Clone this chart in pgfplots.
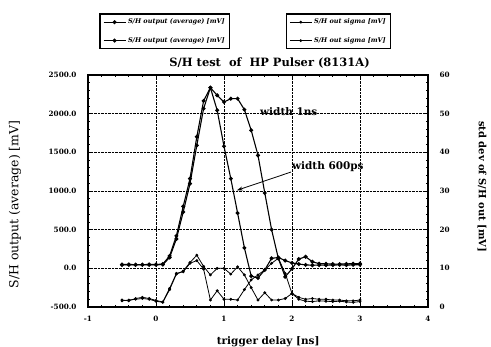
\documentclass[border=0pt]{standalone}
\usepackage{fontspec}
\setmainfont{DejaVu Serif}
\usepackage{pgfplots}
\usepackage{pgfplotstable}
\pgfplotsset{compat=1.18}
\usetikzlibrary{arrows.meta}

\pgfplotstableread{
x a1 a2
-0.5 50 45
-0.4 50 45
-0.3 48 44
-0.2 48 45
-0.1 50 45
0.0 50 46
0.1 55 48
0.2 160 140
0.3 420 380
0.4 800 728
0.5 1160 1095
0.6 1700 1590
0.7 2165 2065
0.8 2336 2336
0.9 2237 2043
1.0 2151 1578
1.1 2194 1160
1.2 2194 715
1.3 2052 265
1.4 1785 -100
1.5 1461 -125
1.6 974 -20
1.7 500 130
1.8 125 140
1.9 -110 100
2.0 -5 70
2.1 120 55
2.2 150 45
2.3 85 40
2.4 60 42
2.5 58 40
2.6 55 42
2.7 55 45
2.8 58 42
2.9 60 45
3.0 62 48
}\avgdata

\pgfplotstableread{
x s1 s2
-0.5 1.8 1.6
-0.4 1.6 1.8
-0.3 2.2 2.0
-0.2 2.5 2.2
-0.1 2.2 2.0
0.0 1.7 1.5
0.1 1.3 1.2
0.2 4.8 4.5
0.3 8.7 8.5
0.4 9.1 9.3
0.5 11.3 11.5
0.6 12.0 13.4
0.7 9.8 10.5
0.8 1.8 8.3
0.9 4.2 10.0
1.0 2.0 10.0
1.1 2.0 8.5
1.2 1.8 10.4
1.3 4.5 8.3
1.4 7.0 5.0
1.5 8.3 1.8
1.6 9.6 3.7
1.7 11.3 1.8
1.8 12.6 1.8
1.9 8.7 2.2
2.0 3.5 3.5
2.1 2.5 2.0
2.2 2.0 1.5
2.3 2.2 1.4
2.4 2.0 1.6
2.5 2.0 1.5
2.6 1.8 1.4
2.7 1.8 1.5
2.8 1.6 1.3
2.9 1.6 1.2
3.0 1.8 1.4
}\sigdata

\begin{document}
\begin{tikzpicture}
\useasboundingbox (0,0) rectangle (491bp,347bp);
\pgfplotsset{
  common/.style={
    at={(88bp,40bp)}, anchor=south west,
    scale only axis, width=340bp, height=232bp,
    xmin=-1, xmax=4,
    /pgf/number format/assume math mode=true,
    tick align=inside,
    major tick length=4bp, minor tick length=2bp,
    tick style={black, line width=0.8pt},
    axis line style={line width=1.1pt},
    legend cell align=left,
    legend image code/.code={\draw[mark repeat=2,mark phase=2,##1] plot coordinates {(0bp,0bp)(11bp,0bp)(22bp,0bp)};},
  },
}
\begin{axis}[
  common,
  ymin=-500, ymax=2500,
  xtick={-1,0,1,2,3,4}, ytick={-500,0,500,1000,1500,2000,2500},
  minor x tick num=4, minor y tick num=4,
  xtick pos=both, ytick pos=left,
  grid=major, major grid style={densely dotted, black, line width=0.9pt},
  yticklabel style={/pgf/number format/.cd, fixed, fixed zerofill, precision=1, 1000 sep={}, /tikz/.cd, font=\bfseries\fontsize{7.3}{9}\selectfont, xshift=-8bp},
  xticklabel style={font=\bfseries\fontsize{7.3}{9}\selectfont, yshift=-6bp},
  ylabel={S/H output (average) [mV]},
  ylabel style={at={(axis description cs:-0.2147,0.442)}, anchor=center, font=\fontsize{12.5}{14}\selectfont},
  xlabel={trigger delay [ns]},
  xlabel style={at={(axis description cs:0.53,-0.151)}, anchor=center, font=\bfseries\fontsize{10.5}{12}\selectfont},
  title={S/H test\ \ of\ \ HP Pulser (8131A)},
  title style={at={(axis description cs:0.534,1.025)}, anchor=center, yshift=0pt, font=\bfseries\fontsize{11.5}{14}\selectfont},
  legend style={at={(axis description cs:0.226,1.188)}, anchor=center, draw=black, line width=1.1pt,
    font=\bfseries\itshape\fontsize{6.5}{8}\selectfont, row sep=8bp, inner sep=3bp},
]
\addplot[black, line width=1.1pt, mark=*, mark size=1.4pt] table[x=x, y=a1] {\avgdata};
\addlegendentry{S/H output (average) [mV]}
\addplot[black, line width=1.1pt, mark=*, mark size=1.4pt] table[x=x, y=a2] {\avgdata};
\addlegendentry{S/H output (average) [mV]}
\node[anchor=west, font=\bfseries\fontsize{10.5}{12}\selectfont, inner sep=0pt] at (axis cs:1.53,2030) {width 1ns};
\node[anchor=west, font=\bfseries\fontsize{10.5}{12}\selectfont, inner sep=0pt] at (axis cs:2.0,1320) {width 600ps};
\draw[-{Stealth[length=6bp,width=4bp]}, line width=0.8pt] (axis cs:1.985,1245) -- (axis cs:1.19,1009);
\end{axis}
\begin{axis}[
  common,
  ymin=0, ymax=60,
  ytick={0,10,20,30,40,50,60},
  minor y tick num=4,
  axis y line*=right, hide x axis,
  yticklabel style={font=\bfseries\fontsize{7.3}{9}\selectfont, xshift=8bp},
  ylabel={std dev of S/H out [mV]},
  ylabel style={at={(axis description cs:1.159,0.519)}, anchor=center, rotate=180, font=\bfseries\fontsize{10}{12}\selectfont},
  legend style={at={(axis description cs:0.737,1.188)}, anchor=center, draw=black, line width=1.1pt,
    font=\bfseries\itshape\fontsize{6.5}{8}\selectfont, row sep=8bp, inner sep=3bp},
]
\addplot[black, line width=0.8pt, mark=*, mark size=1.0pt] table[x=x, y=s1] {\sigdata};
\addlegendentry{S/H out sigma [mV]}
\addplot[black, line width=0.8pt, mark=*, mark size=1.0pt] table[x=x, y=s2] {\sigdata};
\addlegendentry{S/H out sigma [mV]}
\end{axis}
\end{tikzpicture}
\end{document}
